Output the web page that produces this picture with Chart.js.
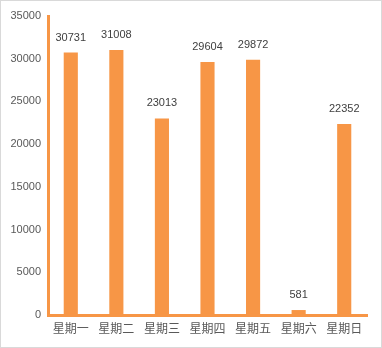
<!DOCTYPE html>
<html><head><meta charset="utf-8">
<script src="https://cdn.jsdelivr.net/npm/chart.js@4/dist/chart.umd.min.js"></script>
<style>
html,body{margin:0;padding:0;background:#fff;}
#wrap{position:relative;width:382px;height:348px;box-sizing:border-box;border:1px solid #d9d9d9;}
#wrap canvas{position:absolute;left:-1px;top:-1px;}
</style></head><body>
<div id="wrap"><canvas id="c" width="382" height="348"></canvas></div>
<script>
const categories = ['星期一','星期二','星期三','星期四','星期五','星期六','星期日'];
const values = [30731, 31008, 23013, 29604, 29872, 581, 22352];
const yTicks = [0, 5000, 10000, 15000, 20000, 25000, 30000, 35000];

const orange = '#F79646';
const labelPlugin = {
  id: 'valLabels',
  afterDatasetsDraw(chart) {
    const ctx = chart.ctx;
    const meta = chart.getDatasetMeta(0);
    ctx.save();
    ctx.font = '11px "Liberation Sans", "Noto Sans", sans-serif';
    ctx.fillStyle = '#404040';
    ctx.textAlign = 'center';
    ctx.textBaseline = 'middle';
    meta.data.forEach((el, i) => {
      ctx.fillText(String(values[i]), el.x, el.y - 15);
    });
    ctx.restore();
  }
};

new Chart(document.getElementById('c'), {
  type: 'bar',
  data: {
    labels: categories,
    datasets: [{
      data: values,
      backgroundColor: orange,
      borderWidth: 0,
      categoryPercentage: 1.0,
      barPercentage: 0.31
    }]
  },
  options: {
    responsive: false,
    animation: false,
    devicePixelRatio: 1,
    layout: { padding: { left: 0, top: 16, right: 15, bottom: 0 } },
    plugins: { legend: { display: false }, tooltip: { enabled: false } },
    scales: {
      x: {
        grid: { display: false, drawTicks: false },
        border: { display: true, color: orange, width: 3 },
        ticks: {
          color: '#595959',
          padding: 6,
          font: { family: '"Noto Sans CJK SC", sans-serif', size: 12 }
        },
        afterFit(s) { s.height = 33; }
      },
      y: {
        min: 0, max: 35000,
        afterBuildTicks(s) { s.ticks = yTicks.map(v => ({ value: v })); },
        grid: { display: false, drawTicks: false },
        border: { display: true, color: orange, width: 3 },
        ticks: {
          color: '#595959',
          padding: 7,
          font: { family: '"Liberation Sans", "Noto Sans", sans-serif', size: 11 },
          callback: v => String(v)
        },
        afterFit(s) { s.width = 48; }
      }
    }
  },
  plugins: [labelPlugin]
});
</script>
</body></html>
